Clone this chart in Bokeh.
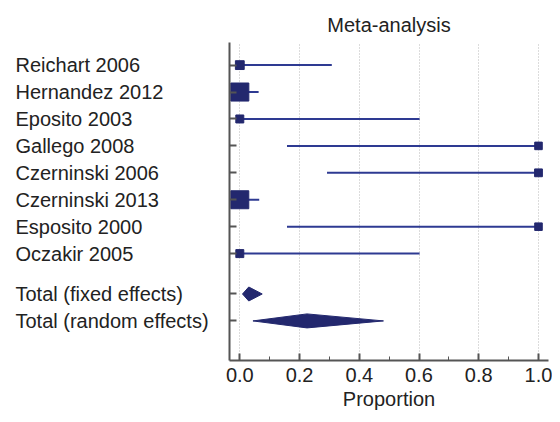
from bokeh.plotting import figure
from bokeh.layouts import row
from bokeh.models import FixedTicker, ColumnDataSource, Range1d
from bokeh.core.properties import value
from bokeh.embed import file_html
from bokeh.resources import INLINE

# ---- data ----
studies = ["Reichart 2006", "Hernandez 2012", "Eposito 2003", "Gallego 2008",
           "Czerninski 2006", "Czerninski 2013", "Esposito 2000", "Oczakir 2005"]
est = [0.0, 0.0, 0.0, 1.0, 1.0, 0.0, 1.0, 0.0]
ci_lo = [0.0, 0.0, 0.0, 0.158, 0.292, 0.0, 0.158, 0.0]
ci_hi = [0.308, 0.063, 0.602, 1.0, 1.0, 0.065, 1.0, 0.602]
weight = [10.5, 21.5, 9.5, 9.0, 9.3, 21.4, 9.0, 9.5]  # % weight

pooled_names = ["Total (fixed effects)", "Total (random effects)"]
pooled_est = [0.030, 0.225]
pooled_lo = [0.009, 0.044]
pooled_hi = [0.075, 0.481]

x_ticks = [0.0, 0.2, 0.4, 0.6, 0.8, 1.0]
x_tick_labels = ["0.0", "0.2", "0.4", "0.6", "0.8", "1.0"]
x_minor = [0.1, 0.3, 0.5, 0.7, 0.9]

# ---- layout helpers ----
n = len(studies)
study_y = [-i for i in range(n)]
pooled_y = [-(n + 0.5 + k) for k in range(len(pooled_names))]
FONT = "Liberation Sans"
TXT = "#222222"
SQ = "#23286e"
LN = "#2e3a92"
HALF_H = 0.26  # diamond half-height in row units
TOP, BOTTOM = 42, 54
LEFT_W, TOTAL_W, H = 225, 552, 414

y_range = Range1d(-10.97, 0.84)

# ---- main forest panel ----
p = figure(width=TOTAL_W - LEFT_W, height=H, output_backend="svg", toolbar_location=None,
           x_range=Range1d(-0.0345, 1.0335), y_range=y_range,
           min_border_left=4, min_border_right=4, min_border_top=TOP,
           min_border_bottom=BOTTOM)
p.outline_line_color = None
p.background_fill_color = "white"
p.border_fill_color = "white"

p.title.text = "Meta-analysis"
p.title.align = "center"
p.title.text_font = FONT
p.title.text_font_size = "20px"
p.title.text_font_style = "normal"
p.title.text_color = TXT
p.title.standoff = 13

p.ygrid.grid_line_color = None
p.xgrid.ticker = FixedTicker(ticks=x_ticks)
p.xgrid.grid_line_color = "#b8b8b8"
p.xgrid.grid_line_dash = "1 2"
p.xgrid.grid_line_width = 1

xa = p.xaxis[0]
xa.ticker = FixedTicker(ticks=x_ticks, minor_ticks=x_minor)
xa.major_label_overrides = {t: l for t, l in zip(x_ticks, x_tick_labels)}
xa.axis_line_color = "#555555"
xa.axis_line_width = 2
xa.major_tick_in = 7
xa.major_tick_out = 0
xa.major_tick_line_color = "#555555"
xa.major_tick_line_width = 2
xa.minor_tick_in = 4
xa.minor_tick_out = 0
xa.minor_tick_line_color = "#555555"
xa.minor_tick_line_width = 1
xa.major_label_text_font = FONT
xa.major_label_text_font_size = "20px"
xa.major_label_text_color = TXT
xa.major_label_standoff = 7
xa.axis_label = "Proportion"
xa.axis_label_text_font = FONT
xa.axis_label_text_font_size = "20px"
xa.axis_label_text_font_style = "normal"
xa.axis_label_text_color = TXT
xa.axis_label_standoff = 3

ya = p.yaxis[0]
ya.ticker = FixedTicker(ticks=study_y + pooled_y, minor_ticks=[])
ya.major_label_overrides = {t: "" for t in study_y + pooled_y}
ya.major_label_text_font_size = "1px"
ya.major_label_standoff = 0
ya.axis_line_color = "#555555"
ya.axis_line_width = 2
ya.major_tick_in = 7
ya.major_tick_out = 0
ya.major_tick_line_color = "#555555"
ya.major_tick_line_width = 2
ya.minor_tick_line_color = None

src = ColumnDataSource(dict(name=studies, y=study_y, est=est, lo=ci_lo, hi=ci_hi,
                            size=[w * 0.84 for w in weight]))
p.segment(x0="lo", x1="hi", y0="y", y1="y", source=src, line_color=LN, line_width=2)
p.scatter(x="est", y="y", size="size", marker="square", source=src,
          fill_color=SQ, line_color=SQ, line_width=1)

xs = [[lo, e, hi, e] for lo, e, hi in zip(pooled_lo, pooled_est, pooled_hi)]
ys = [[y, y + HALF_H, y, y - HALF_H] for y in pooled_y]
p.patches(xs=xs, ys=ys, fill_color=SQ, line_color=SQ, line_width=1)

# ---- label panel (shares the y scale) ----
q = figure(width=LEFT_W, height=H, output_backend="svg", toolbar_location=None,
           x_range=Range1d(0, LEFT_W), y_range=y_range,
           x_axis_type=None, y_axis_type=None,
           min_border_left=0, min_border_right=0, min_border_top=TOP,
           min_border_bottom=BOTTOM)
q.outline_line_color = None
q.xgrid.visible = False
q.ygrid.visible = False
lab_src = ColumnDataSource(dict(name=studies + pooled_names, y=study_y + pooled_y,
                                x=[15] * (n + len(pooled_names))))
q.text(x="x", y="y", text="name", source=lab_src,
       text_font=value(FONT), text_font_size=value("20px"), text_color=TXT,
       text_baseline="middle", text_align="left")

layout = row(q, p, spacing=0)
open("out.html", "w").write(file_html(layout, INLINE))
